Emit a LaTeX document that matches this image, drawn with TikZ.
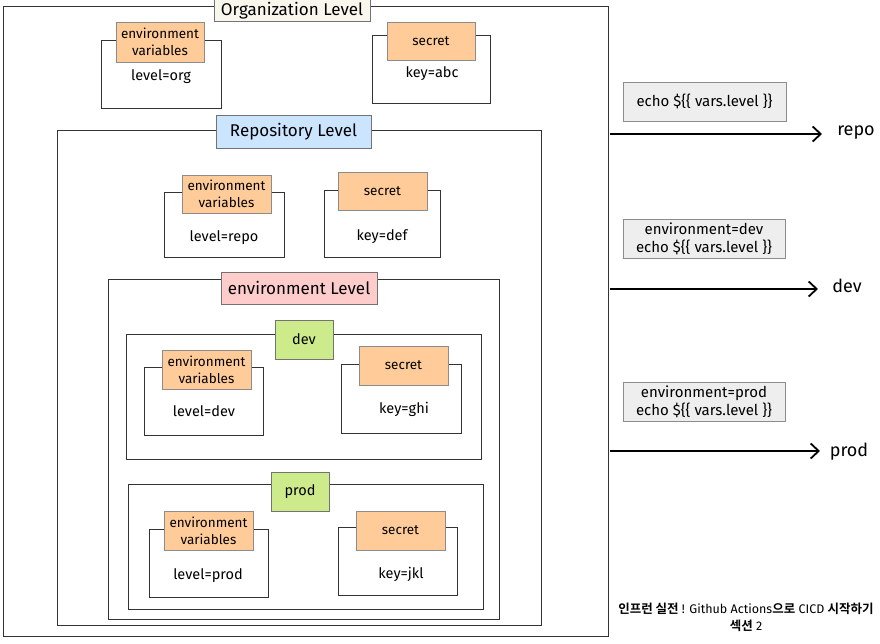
\documentclass[tikz,border=0pt]{standalone}
\usepackage{fontspec}
\setmainfont{Fira Sans}
\newfontfamily\cjk{Noto Sans CJK KR Bold}
\usetikzlibrary{arrows.meta}
\definecolor{orng}{HTML}{FFCC99}
\definecolor{beige}{HTML}{F9F7ED}
\definecolor{lblue}{HTML}{CCE5FF}
\definecolor{lpink}{HTML}{FFCCCC}
\definecolor{lgreen}{HTML}{CDEB8B}
\definecolor{lgray}{HTML}{EEEEEE}
\begin{document}
\begin{tikzpicture}[x=1pt,y=-1pt,
  frame/.style={draw=black!80, line width=0.9pt, anchor=north west, inner sep=0pt},
  back/.style={draw=black!80, line width=0.8pt, fill=white, anchor=north west, inner sep=0pt},
  title/.style={draw=black!55, line width=0.6pt, inner sep=0pt, font=\fontsize{17}{20}\selectfont},
  tag/.style={draw=black!45, line width=0.6pt, fill=orng, inner sep=0pt, align=center, font=\fontsize{13.5}{17}\selectfont},
  txt/.style={font=\fontsize{14.5}{17}\selectfont},
  code/.style={draw=black!45, line width=0.6pt, fill=lgray, inner sep=0pt, align=center, font=\fontsize{15}{18}\selectfont},
  arr/.style={line width=1.8pt, -{Straight Barb[length=8pt,width=15pt,line width=1.8pt]}},
  dest/.style={font=\fontsize{18}{21}\selectfont}
]
\useasboundingbox (0,0) rectangle (880,644);
\fill[white] (0,0) rectangle (880,644);

% ---------- Organization ----------
\node[frame, minimum width=605pt, minimum height=630pt] (org) at (3,6) {};
\node[title, fill=beige, minimum width=156pt, minimum height=22pt] (orgl) at (292,10.5) {Organization Level};
\node[back, minimum width=120pt, minimum height=68pt] (orgvb) at (101,40) {};
\node[tag, minimum width=88pt, minimum height=40pt] (orgv) at (160,42) {environment\\variables};
\node[txt] (orgvt) at (161,77) {level=org};
\node[back, minimum width=118pt, minimum height=68pt] (orgsb) at (372,35) {};
\node[tag, minimum width=88pt, minimum height=38pt] (orgs) at (431,41) {secret};
\node[txt] (orgst) at (432,74) {key=abc};

% ---------- Repository ----------
\node[frame, minimum width=484pt, minimum height=495pt] (repo) at (57,130) {};
\node[title, fill=lblue, minimum width=155pt, minimum height=33pt] (repol) at (293.5,131.5) {Repository Level};
\node[back, minimum width=120pt, minimum height=65pt] (repovb) at (164,192) {};
\node[tag, minimum width=89pt, minimum height=38pt] (repov) at (226.5,194) {environment\\variables};
\node[txt] (repovt) at (224,238) {level=repo};
\node[back, minimum width=116pt, minimum height=67pt] (reposb) at (324,190) {};
\node[tag, minimum width=89pt, minimum height=38pt] (repos) at (382.5,191) {secret};
\node[txt] (repost) at (382,237) {key=def};

% ---------- environment ----------
\node[frame, minimum width=391pt, minimum height=340pt] (env) at (108,279) {};
\node[title, fill=lpink, minimum width=156pt, minimum height=32pt] (envl) at (299,288) {environment Level};

% dev
\node[frame, minimum width=355pt, minimum height=125pt] (dev) at (126,334) {};
\node[title, fill=lgreen, minimum width=58pt, minimum height=39pt, font=\fontsize{14.5}{17}\selectfont] (devl) at (304,339.5) {dev};
\node[back, minimum width=119pt, minimum height=68pt] (devvb) at (144,367) {};
\node[tag, minimum width=89pt, minimum height=39pt] (devv) at (206.5,369.5) {environment\\variables};
\node[txt] (devvt) at (204,411) {level=dev};
\node[back, minimum width=120pt, minimum height=69pt] (devsb) at (341,364) {};
\node[tag, minimum width=89pt, minimum height=39pt] (devs) at (403.5,365.5) {secret};
\node[txt] (devst) at (404,409) {key=ghi};

% prod
\node[frame, minimum width=355pt, minimum height=125pt] (prod) at (128,484) {};
\node[title, fill=lgreen, minimum width=58pt, minimum height=39pt, font=\fontsize{14.5}{17}\selectfont] (prodl) at (300,491.5) {prod};
\node[back, minimum width=119pt, minimum height=68pt] (prodvb) at (149,529) {};
\node[tag, minimum width=89pt, minimum height=39pt] (prodv) at (208.5,530.5) {environment\\variables};
\node[txt] (prodvt) at (208,576) {level=prod};
\node[back, minimum width=119pt, minimum height=68pt] (prodsb) at (338,527) {};
\node[tag, minimum width=89pt, minimum height=39pt] (prods) at (400.5,530.5) {secret};
\node[txt] (prodst) at (401,574) {key=jkl};

% ---------- right side ----------
\node[code, minimum width=163pt, minimum height=39pt] (c1) at (704.5,101.5) {echo \$\{\{ vars.level \}\}};
\node[code, minimum width=162pt, minimum height=39pt] (c2) at (704,238.5) {environment=dev\\echo \$\{\{ vars.level \}\}};
\node[code, minimum width=162pt, minimum height=39pt] (c3) at (704,401.5) {environment=prod\\echo \$\{\{ vars.level \}\}};

\node[dest] (drepo) at (856,133) {repo};
\node[dest] (ddev) at (847,286) {dev};
\node[dest] (dprod) at (849,452) {prod};

\coordinate (s1) at (610,134);
\coordinate (s2) at (610,289);
\coordinate (s3) at (610,451);
\coordinate (e1) at (822,134);
\coordinate (e2) at (818,289);
\coordinate (e3) at (820,451);
\draw[arr] (s1) -- (e1);
\draw[arr] (s2) -- (e2);
\draw[arr] (s3) -- (e3);

\node[font=\fontsize{12.5}{17}\selectfont, align=center] (credit) at (746,617)
  {{\cjk 인프런 실전} ! Github Actions{\cjk 으로} CICD {\cjk 시작하기}\\{\cjk 섹션} 2};
\end{tikzpicture}
\end{document}
